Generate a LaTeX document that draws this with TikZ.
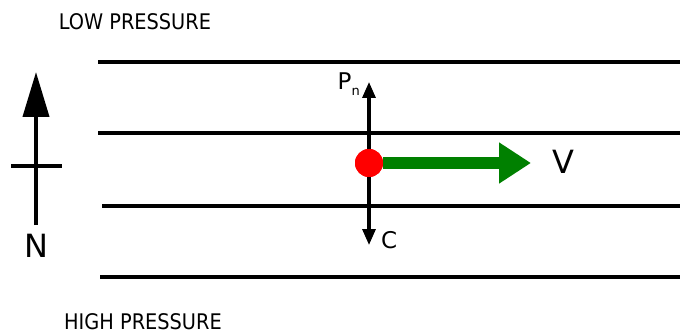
\documentclass[tikz,border=0pt]{standalone}
\usepackage{fontspec}
\setmainfont{DejaVu Sans}
\newfontfamily\condfont{DejaVu Sans Condensed}
\usetikzlibrary{arrows.meta, positioning}
\definecolor{flowgreen}{HTML}{008000}
\definecolor{dotred}{HTML}{FF0000}

\begin{document}
\begin{tikzpicture}[x=1pt, y=-1pt,
        isobar/.style={line width=3.2pt},
        region/.style={font=\condfont\fontsize{21.5}{21.5}\selectfont, inner sep=0pt},
        lbl/.style={font=\fontsize{23}{23}\selectfont, inner sep=0pt},
        biglbl/.style={font=\fontsize{32}{32}\selectfont, inner sep=0pt},
        force/.style={line width=3.2pt, -{Triangle[length=16pt, width=13pt]}},
        flow/.style={line width=11pt, flowgreen, -{Triangle[length=32pt, width=39pt]}},
        north/.style={line width=4pt, -{Triangle[length=45pt, width=26pt]}},
        parcel/.style={circle, fill=dotred, minimum size=28pt, inner sep=0pt},
      ]
        \useasboundingbox (0,0) rectangle (680,334);
        % isobars
        \draw[isobar] (98,62)  -- (680,62);
        \draw[isobar] (98,133) -- (680,133);
        \draw[isobar] (102,206) -- (680,206);
        \draw[isobar] (100,277) -- (680,277);
        \node[region] (low)  at (135,22)  {LOW PRESSURE};
        \node[region] (high) at (143,322) {HIGH PRESSURE};
        % north marker
        \coordinate (nbase) at (36,225);
        \coordinate (ntip)  at (36,72);
        \draw[north] (nbase) -- (ntip);
        \coordinate (barl) at (11,166);
        \coordinate (barr) at (62,166);
        \draw[line width=4pt] (barl) -- (barr);
        \node[biglbl] (n) at (36,246) {N};
        % parcel and forces
        \coordinate (ptip) at (369,82);
        \coordinate (ctip) at (369,245);
        \draw[force] (369,163) -- (ptip);
        \draw[force] (369,163) -- (ctip);
        \coordinate (vtip) at (531,163);
        \node[parcel] (dot) at (369,163) {};
        \draw[flow] (dot.east) -- (vtip);
        \node[parcel] at (dot) {};
        \node[lbl, anchor=east] (pn) at (360,84) {P\raisebox{-6pt}{\fontsize{13}{13}\selectfont n}};
        \node[lbl, anchor=west] (c) at (381,240) {C};
        \node[biglbl, anchor=west] (v) at (552,162) {V};
      \end{tikzpicture}
\end{document}
